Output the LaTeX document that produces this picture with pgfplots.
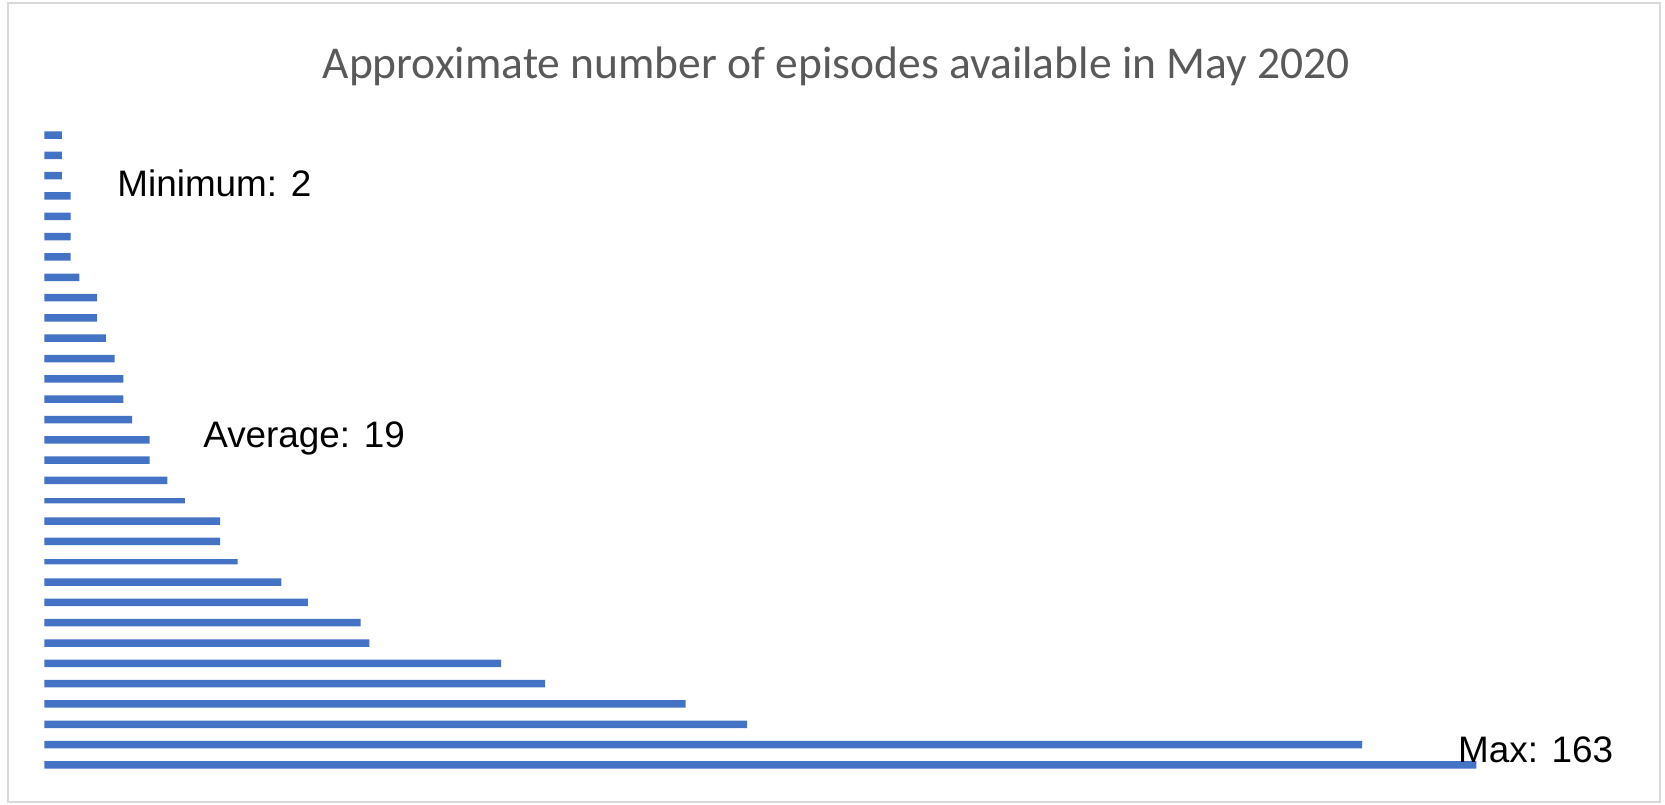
\documentclass[border=0pt]{standalone}
\usepackage{pgfplots}
\pgfplotsset{compat=1.18}
\usepackage{pgfplotstable}
\usepackage{fontspec}
\setmainfont{Liberation Sans}
\newfontfamily\titlefont{Carlito}
\definecolor{barblue}{HTML}{4472C4}
\definecolor{titlegray}{HTML}{595959}
\definecolor{framegray}{HTML}{D9D9D9}
% idx: position from the top, val: episodes
\pgfplotstableread{
idx val
1 2
2 2
3 2
4 3
5 3
6 3
7 3
8 4
9 6
10 6
11 7
12 8
13 9
14 9
15 10
16 12
17 12
18 14
20 20
21 20
23 27
24 30
25 36
26 37
27 52
28 57
29 73
30 80
31 150
32 163
}\maindata
\pgfplotstableread{
idx val
19 16
22 22
}\thindata
\begin{document}
\begin{tikzpicture}
\useasboundingbox (-22.15bp,-14.95bp) rectangle (810.35bp,387.55bp);
\draw[framegray, line width=1bp] (-17.9bp,-13.45bp) rectangle (807.85bp,386.05bp);
\node[anchor=base, text=titlegray, font=\titlefont\fontsize{22.85}{27}\selectfont, inner sep=0] at (396bp,348.5bp) {Approximate number of episodes available in May 2020};
\begin{axis}[
  at={(0,0)}, anchor=south west,
  scale only axis, width=790.65bp, height=325.12bp,
  hide axis,
  xmin=0, xmax=180, ymin=0.5, ymax=32.5,
  y dir=reverse,
  clip=false,
]
\addplot[xbar, bar width=3.75bp, bar shift=0pt, fill=barblue, draw=none] table[x=val, y=idx] {\maindata};
\addplot[xbar, bar width=2.6bp, bar shift=0pt, fill=barblue, draw=none] table[x=val, y=idx] {\thindata};
\node[anchor=west, inner sep=0, font=\fontsize{18.5}{22}\selectfont] at (axis cs:8.28,3.39) {Minimum: 2};
\node[anchor=west, inner sep=0, font=\fontsize{18.5}{22}\selectfont] at (axis cs:18.06,15.94) {Average: 19};
\node[anchor=west, inner sep=0, font=\fontsize{18.5}{22}\selectfont] at (axis cs:160.9,31.25) {Max: 163};
\end{axis}
\end{tikzpicture}
\end{document}
